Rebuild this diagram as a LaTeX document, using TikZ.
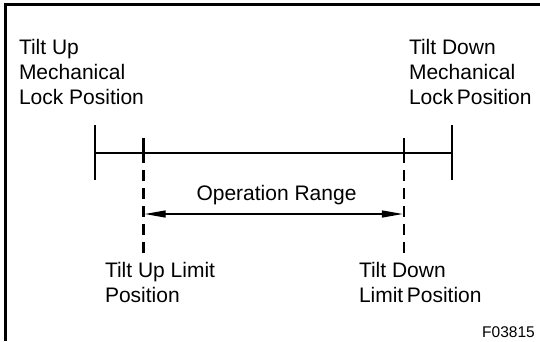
\documentclass[tikz,border=0pt]{standalone}
\usepackage{fontspec}
\setmainfont{Liberation Sans}
\usetikzlibrary{arrows.meta}
\begin{document}
\begin{tikzpicture}[x=1pt,y=-1pt,
  lbl/.style={inner sep=0pt,outer sep=0pt,align=left,anchor=base west,font=\fontsize{21}{24.8}\selectfont},
  frameline/.style={line width=2.6pt},
  solidline/.style={line width=2pt},
  dashline/.style={line width=2.4pt,dash pattern=on 11pt off 7pt},
  rangearrow/.style={line width=1.4pt,{Triangle[length=21pt,width=7pt]}-{Triangle[length=21pt,width=7pt]}}]
\useasboundingbox (0,0) rectangle (540,341);
% frame (left and top edges only)
\coordinate (fbl) at (5.3,341);
\coordinate (ftl) at (5.3,4.3);
\coordinate (ftr) at (540,4.3);
\draw[frameline] (fbl) -- (ftl) -- (ftr);
% mechanical lock ticks
\coordinate (lt) at (95,125);
\coordinate (lb) at (95,180);
\coordinate (rt) at (452,125);
\coordinate (rb) at (452,180);
\coordinate (lm) at (95,153);
\coordinate (rm) at (452,153);
\draw[solidline,line width=2.5pt] (lt) -- (lb);
\draw[solidline,line width=2.5pt] (rt) -- (rb);
\draw[solidline] (lm) -- (rm);
% limit lines
\coordinate (ua) at (143.5,138);
\coordinate (ub) at (143.5,163);
\coordinate (uc) at (143.5,170);
\coordinate (ud) at (143.5,256);
\coordinate (da) at (404,138);
\coordinate (db) at (404,163);
\coordinate (dc) at (404,170);
\coordinate (dd) at (404,256);
\draw[line width=2.4pt] (ua) -- (ub);
\draw[line width=2.4pt] (da) -- (db);
\draw[dashline] (uc) -- (ud);
\draw[dashline] (dc) -- (dd);
% operation range
\coordinate (arl) at (144.7,214);
\coordinate (arr) at (402.8,214);
\draw[rangearrow] (arl) -- (arr);
\node[lbl,anchor=base] (op) at (276.5,200) {Operation Range};
% labels (anchor at baseline of last line)
\node[lbl] (tum) at (19,104) {Tilt Up\\Mechanical\\Lock Position};
\node[lbl] (tdm) at (409,104) {Tilt Down\\Mechanical\\Lock\,Position};
\node[lbl] (tul) at (105,302) {Tilt Up Limit\\Position};
\node[lbl] (tdl) at (359,302) {Tilt Down\\Limit\,Position};
\node[inner sep=0pt,anchor=base east,font=\fontsize{15.5}{18}\selectfont] (fig) at (535,337) {F03815};
\end{tikzpicture}
\end{document}
